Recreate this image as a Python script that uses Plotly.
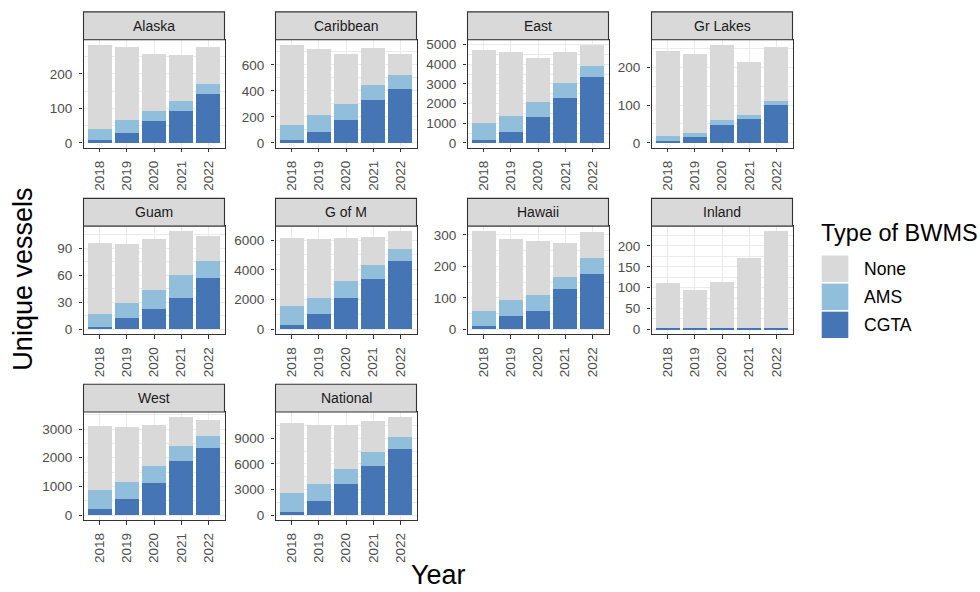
import plotly.graph_objects as go

# Ballast water management system adoption by region, 2018-2022
years = ["2018", "2019", "2020", "2021", "2022"]
regions = ["Alaska", "Caribbean", "East", "Gr Lakes",
           "Guam", "G of M", "Hawaii", "Inland",
           "West", "National"]

cgta_counts = {
    "Alaska": [8, 28, 64, 92, 141],
    "Caribbean": [23, 85, 177, 333, 418],
    "East": [149, 574, 1317, 2292, 3332],
    "Gr Lakes": [6, 16, 47, 62, 101],
    "Guam": [3, 12, 23, 35, 57],
    "G of M": [270, 1034, 2135, 3371, 4607],
    "Hawaii": [11, 42, 59, 127, 175],
    "Inland": [2, 2, 2, 2, 2],
    "West": [217, 570, 1117, 1893, 2326],
    "National": [427, 1668, 3685, 5818, 7797],
}
ams_counts = {
    "Alaska": [32, 38, 28, 29, 31],
    "Caribbean": [112, 133, 120, 113, 105],
    "East": [856, 812, 742, 743, 594],
    "Gr Lakes": [13, 11, 14, 12, 9],
    "Guam": [14, 17, 21, 25, 19],
    "G of M": [1281, 1101, 1101, 921, 786],
    "Hawaii": [46, 50, 51, 39, 52],
    "Inland": [0, 0, 0, 0, 0],
    "West": [672, 582, 605, 513, 422],
    "National": [2133, 1939, 1746, 1591, 1319],
}
none_counts = {
    "Alaska": [245, 213, 167, 134, 107],
    "Caribbean": [622, 507, 388, 285, 164],
    "East": [3728, 3248, 2248, 1584, 1074],
    "Gr Lakes": [225, 209, 199, 141, 143],
    "Guam": [79, 66, 56, 49, 27],
    "G of M": [4561, 3955, 2876, 1888, 1214],
    "Hawaii": [255, 194, 169, 109, 83],
    "Inland": [108, 93, 111, 168, 234],
    "West": [2224, 1915, 1414, 1015, 582],
    "National": [8262, 7021, 5197, 3685, 2404],
}
y_tick_step = {
    "Alaska": 100, "Caribbean": 200, "East": 1000, "Gr Lakes": 100,
    "Guam": 30, "G of M": 2000, "Hawaii": 100, "Inland": 50,
    "West": 1000, "National": 3000,
}

series = [("CGTA", cgta_counts, "#4575b4"),
          ("AMS", ams_counts, "#91bfdb"),
          ("None", none_counts, "#d9d9d9")]

W, H = 980, 592
col_x = [(83.5, 224.5), (275.5, 416.5), (467.5, 608.5), (651.5, 792.5)]
row_strip_top = [10, 198, 385.5]
strip_h = 28
panel_h = 109

FONT = "Liberation Sans, Arial, sans-serif"
BORDER = "#333333"
GRID = "#ebebeb"

fig = go.Figure()
shapes = []
annotations = []

for i, reg in enumerate(regions):
    r, c = divmod(i, 4)
    x0, x1 = col_x[c]
    st = row_strip_top[r]
    p0 = st + strip_h
    p1 = p0 + panel_h
    ax = "" if i == 0 else str(i + 1)

    for name, counts, color in series:
        fig.add_trace(go.Bar(
            x=years, y=counts[reg], name=name, marker_color=color,
            marker_line_width=0, width=0.9, showlegend=False,
            xaxis="x" + ax, yaxis="y" + ax,
        ))

    totals = [a + b + n for a, b, n in zip(cgta_counts[reg], ams_counts[reg], none_counts[reg])]
    top = max(totals)
    y_lo, y_hi = -0.05 * top, 1.05 * top
    step = y_tick_step[reg]
    # breaks are kept within the data limits [0, max]
    ticks = list(range(0, int(top) + 1, step))

    common = dict(showline=True, linecolor=BORDER, linewidth=1.1, mirror=True,
                  ticks="outside", ticklen=3.5, tickcolor=BORDER, tickwidth=1,
                  tickfont=dict(family=FONT, size=13.5, color="#4d4d4d"),
                  gridcolor=GRID, gridwidth=1, showgrid=True, zeroline=False,
                  fixedrange=True)
    fig.layout["xaxis" + ax] = dict(
        common, domain=[x0 / W, x1 / W], anchor="y" + ax,
        type="category", categoryorder="array", categoryarray=years,
        range=[-0.6, 4.6], tickangle=-90, ticklabelstandoff=3,
    )
    fig.layout["yaxis" + ax] = dict(
        common, domain=[1 - p1 / H, 1 - p0 / H], anchor="x" + ax,
        range=[y_lo, y_hi], tickvals=ticks, ticklabelstandoff=4,
        minor=dict(showgrid=True, gridcolor=GRID, gridwidth=0.5,
                   dtick=step / 2, tick0=0, ticks=""),
    )

    # facet strip
    shapes.append(dict(type="rect", xref="paper", yref="paper",
                       x0=x0 / W, x1=x1 / W, y0=1 - p0 / H, y1=1 - st / H,
                       fillcolor="#d9d9d9", line=dict(color=BORDER, width=1.1),
                       layer="above"))
    annotations.append(dict(text=reg, xref="paper", yref="paper",
                            x=(x0 + x1) / 2 / W, y=1 - (st + strip_h / 2) / H,
                            showarrow=False, xanchor="center", yanchor="middle",
                            font=dict(family=FONT, size=14, color="#1a1a1a")))

# axis titles
annotations.append(dict(text="Unique vessels", xref="paper", yref="paper",
                        x=23 / W, y=1 - 280 / H, textangle=-90, showarrow=False,
                        xanchor="center", yanchor="middle",
                        font=dict(family=FONT, size=27, color="#000000")))
annotations.append(dict(text="Year", xref="paper", yref="paper",
                        x=438 / W, y=1 - 578 / H, showarrow=False,
                        xanchor="center", yanchor="middle",
                        font=dict(family=FONT, size=27, color="#000000")))

# legend
annotations.append(dict(text="Type of BWMS", xref="paper", yref="paper",
                        x=819 / W, y=1 - 233 / H, showarrow=False,
                        xanchor="left", yanchor="middle",
                        font=dict(family=FONT, size=23.5, color="#000000")))
legend_items = [("None", "#d9d9d9"), ("AMS", "#91bfdb"), ("CGTA", "#4575b4")]
for k, (lab, colr) in enumerate(legend_items):
    ky0 = 255.7 + k * 28.3
    shapes.append(dict(type="rect", xref="paper", yref="paper",
                       x0=821.7 / W, x1=848.3 / W, y0=1 - (ky0 + 26.6) / H, y1=1 - ky0 / H,
                       fillcolor=colr, line=dict(width=0)))
    annotations.append(dict(text=lab, xref="paper", yref="paper",
                            x=861.5 / W, y=1 - (ky0 + 13.3) / H, showarrow=False,
                            xanchor="left", yanchor="middle",
                            font=dict(family=FONT, size=17.6, color="#000000")))

fig.update_layout(
    width=W, height=H, autosize=False,
    margin=dict(l=0, r=0, t=0, b=0),
    paper_bgcolor="white", plot_bgcolor="white",
    barmode="stack", bargap=0.1,
    shapes=shapes, annotations=annotations,
    showlegend=False,
)

fig.write_html("out.html")
